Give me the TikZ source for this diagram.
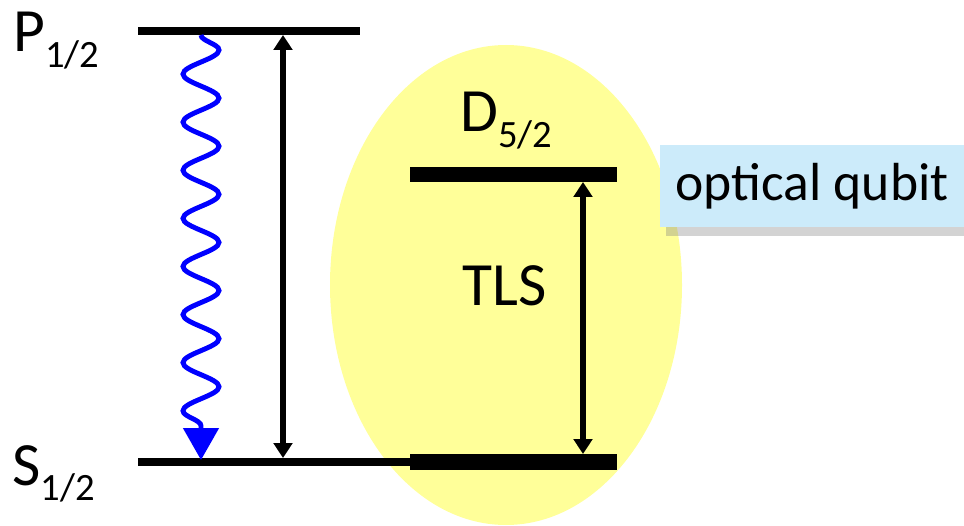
\documentclass[tikz,border=0pt]{standalone}
\usepackage{fontspec}
\setmainfont{Carlito}
\usetikzlibrary{arrows.meta, decorations.pathmorphing, shadows}

\definecolor{tlsyellow}{RGB}{255,255,153}
\definecolor{qubitblue}{RGB}{204,235,250}

\newcommand\lvlsub[1]{\raisebox{-9pt}{\fontsize{22}{22}\selectfont #1}}

\tikzset{
  level/.style={line width=4.5pt},
  thicklevel/.style={line width=8.8pt},
  transition/.style={line width=3.6pt, {Triangle[width=0.37cm, length=0.3cm]}-{Triangle[width=0.37cm, length=0.3cm]}},
  decay/.style={blue, line width=2.8pt, decorate,
    decoration={snake, segment length=0.962cm, amplitude=0.36cm}},
  decaytip/.style={blue, line width=2.8pt, -{Triangle[width=0.7cm, length=0.64cm]}},
  label/.style={font=\fontsize{35}{35}\selectfont, inner sep=0pt}
}

\begin{document}
\begin{tikzpicture}
            \useasboundingbox (0,0) rectangle (19.28,10.5);

            % two-level system (background)
            \fill[tlsyellow] (10.12,4.8) ellipse [x radius=3.52, y radius=4.8];

            % level end points
            \coordinate (P-l) at (2.76,9.88);
            \coordinate (P-r) at (7.2,9.88);
            \coordinate (S-l) at (2.76,1.26);
            \coordinate (S-m) at (8.2,1.26);
            \coordinate (S-r) at (12.34,1.26);
            \coordinate (D-l) at (8.2,7.01);
            \coordinate (D-r) at (12.34,7.01);

            % levels
            \draw[level] (P-l) -- (P-r);
            \draw[level] (S-l) -- (S-m);
            \draw[thicklevel] (S-m) -- (S-r);
            \draw[thicklevel] (D-l) -- (D-r);

            % transitions
            \coordinate (pump-top) at (5.66,9.8);
            \coordinate (pump-bot) at (5.66,1.34);
            \coordinate (qubit-top) at (11.66,6.86);
            \coordinate (qubit-bot) at (11.66,1.42);
            \coordinate (decay-top) at (4.02,9.8);
            \coordinate (decay-mid) at (4.02,1.94);
            \coordinate (decay-bot) at (4.02,1.3);
            \draw[transition] (pump-top) -- (pump-bot);
            \draw[transition] (qubit-top) -- (qubit-bot);
            \draw[decay] (decay-top) -- (decay-mid);
            \draw[decaytip] (decay-mid) -- (decay-bot);

            % labels
            \node (P-label) [label, anchor=base west] at (0.26,9.46) {P\lvlsub{1/2}};
            \node (S-label) [label, anchor=base west] at (0.24,0.8) {S\lvlsub{1/2}};
            \node (D-label) [label, anchor=base west] at (9.2,7.86) {D\lvlsub{5/2}};
            \node (tls) [label, anchor=base] at (10.1,4.4) {TLS};

            % optical qubit box
            \node (qubit) [label, font=\fontsize{30.5}{30.5}\selectfont, fill=qubitblue,
              minimum width=6.08cm, minimum height=1.64cm,
              drop shadow={shadow xshift=0.12cm, shadow yshift=-0.18cm, opacity=0.35}] at (16.24,6.78) {optical qubit};
\end{tikzpicture}
\end{document}
